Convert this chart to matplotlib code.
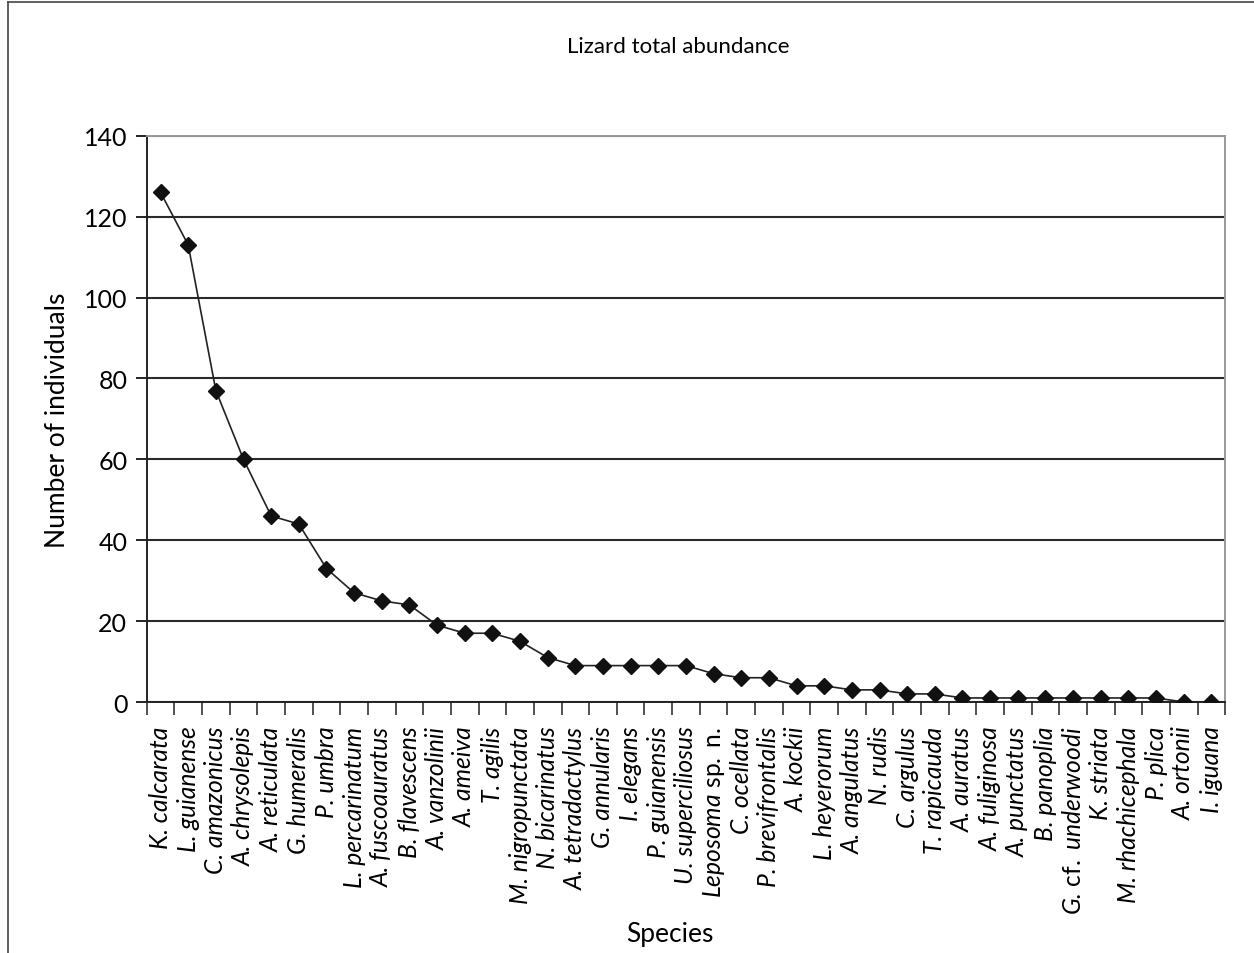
import matplotlib
matplotlib.use('Agg')
import matplotlib.pyplot as plt
from matplotlib.lines import Line2D

species = ["K. calcarata", "L. guianense", "C. amazonicus", "A. chrysolepis",
           "A. reticulata", "G. humeralis", "P. umbra", "L. percarinatum",
           "A. fuscoauratus", "B. flavescens", "A. vanzolinii", "A. ameiva",
           "T. agilis", "M. nigropunctata", "N. bicarinatus", "A. tetradactylus",
           "G. annularis", "I. elegans", "P. guianensis", "U. superciliosus",
           r"Leposoma$\mathrm{\ sp.\ n.}$", "C. ocellata", "P. brevifrontalis",
           "A. kockii", "L. heyerorum", "A. angulatus", "N. rudis", "C. argulus",
           "T. rapicauda", "A. auratus", "A. fuliginosa", "A. punctatus",
           "B. panoplia", r"G.$\mathrm{\ cf.\ }$underwoodi", "K. striata",
           "M. rhachicephala", "P. plica", "A. ortonii", "I. iguana"]
abundance = [126, 113, 77, 60, 46, 44, 33, 27, 25, 24, 19, 17, 17, 15, 11, 9,
             9, 9, 9, 9, 7, 6, 6, 4, 4, 3, 3, 2, 2, 1, 1, 1, 1, 1, 1, 1, 1, 0, 0]
yticks = [0, 20, 40, 60, 80, 100, 120, 140]

plt.rcParams['font.family'] = 'Lato'
plt.rcParams['mathtext.fontset'] = 'custom'
plt.rcParams['mathtext.rm'] = 'Lato'
plt.rcParams['mathtext.it'] = 'Lato:italic'

fig = plt.figure(figsize=(12.54, 9.54), dpi=100)
ax = fig.add_axes([0.117, 0.2631, 0.860, 0.5936])

x = list(range(len(species)))
ax.plot(x, abundance, color='#222222', lw=1.2, marker='D', markersize=8,
        markerfacecolor='#111111', markeredgecolor='#111111', zorder=3)

ax.set_xlim(-0.5, len(species) - 0.5)
ax.set_ylim(0, 140)
ax.set_yticks(yticks)
ax.yaxis.grid(True, color='#2a2a2a', lw=1.5)
ax.set_axisbelow(True)

ax.set_xticks(x)
ax.set_xticklabels(species, rotation=90, fontstyle='italic', fontsize=17.7)
ax.set_xticks([i - 0.5 for i in range(len(species) + 1)], minor=True)
ax.tick_params(axis='x', which='major', length=0, pad=17)
ax.tick_params(axis='x', which='minor', length=9, width=1.2, color='#333333')
ax.tick_params(axis='y', length=8, width=1.2, labelsize=18, pad=6)

for s in ['left', 'bottom']:
    ax.spines[s].set_color('#222222')
    ax.spines[s].set_linewidth(1.4)
for s in ['top', 'right']:
    ax.spines[s].set_color('#999999')
    ax.spines[s].set_linewidth(1.4)

ax.set_ylabel("Number of individuals", fontsize=19, labelpad=10)
fig.text(0.534, 0.013, "Species", fontsize=19, ha='center')
fig.text(0.541, 0.951, "Lizard total abundance", fontsize=16, ha='center', va='center')

# outer frame
fig.add_artist(Line2D([0.0065, 0.0065], [0, 0.997], transform=fig.transFigure,
                      color='#444444', lw=1.2))
fig.add_artist(Line2D([0.0065, 1], [0.997, 0.997], transform=fig.transFigure,
                      color='#444444', lw=1.2))

fig.savefig("out.png", dpi=100)
